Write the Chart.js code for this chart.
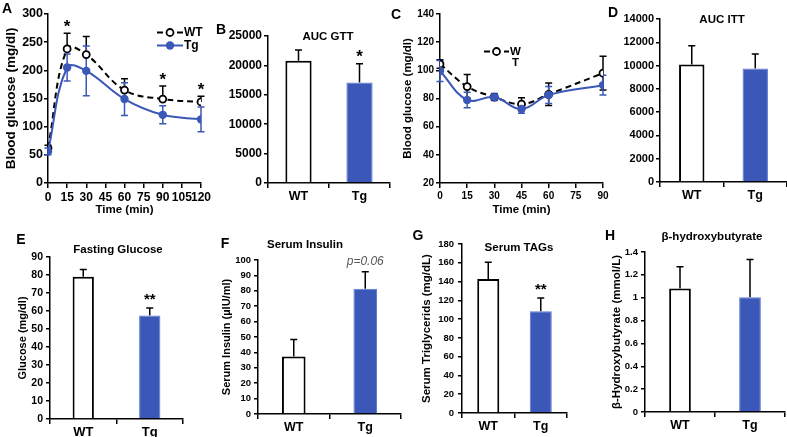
<!DOCTYPE html>
<html>
<head>
<meta charset="utf-8">
<script src="https://cdn.jsdelivr.net/npm/chart.js@4"></script>
<style>
    body { margin: 0; background: #fff; width: 787px; height: 437px; position: relative; overflow: hidden; font-family: Arial, "Liberation Sans", sans-serif; }
    canvas { position: absolute; }
    .txt { position: absolute; font-weight: bold; color: #000; white-space: nowrap; line-height: 1; transform: translate(-50%, -50%); }
    .letter { font-size: 14px; }
    .title { font-size: 11.5px; }
</style>
</head>
<body>
<canvas id="chartA" width="215" height="220" style="left:0;top:0"></canvas>
<canvas id="chartB" width="180" height="220" style="left:215px;top:0"></canvas>
<canvas id="chartC" width="215" height="220" style="left:395px;top:0"></canvas>
<canvas id="chartD" width="177" height="220" style="left:610px;top:0"></canvas>
<canvas id="chartE" width="200" height="212" style="left:0;top:225px"></canvas>
<canvas id="chartF" width="205" height="212" style="left:200px;top:225px"></canvas>
<canvas id="chartG" width="180" height="212" style="left:405px;top:225px"></canvas>
<canvas id="chartH" width="202" height="212" style="left:585px;top:225px"></canvas>

<div class="txt letter" style="left:7px;top:8px">A</div>
<div class="txt letter" style="left:221px;top:29px">B</div>
<div class="txt letter" style="left:396px;top:14px">C</div>
<div class="txt letter" style="left:613px;top:12px">D</div>
<div class="txt letter" style="left:21px;top:239px">E</div>
<div class="txt letter" style="left:225px;top:243px">F</div>
<div class="txt letter" style="left:418px;top:235px">G</div>
<div class="txt letter" style="left:610px;top:235px">H</div>

<div class="txt title" style="left:328px;top:37px">AUC GTT</div>
<div class="txt title" style="left:722px;top:20px">AUC ITT</div>
<div class="txt title" style="left:118px;top:250px">Fasting Glucose</div>
<div class="txt title" style="left:305px;top:245px">Serum Insulin</div>
<div class="txt title" style="left:519px;top:248px">Serum TAGs</div>
<div class="txt title" style="left:712px;top:237px">β-hydroxybutyrate</div>

<script>
var FONT = 'Arial, "Liberation Sans", sans-serif';
var BLUE = '#3b57b8';

// A - glucose tolerance test
var gttTime = [0, 15, 30, 60, 90, 120];
var gttWT = [62, 238, 228, 165, 149, 144];
var gttWTErr = [5, 28, 32, 20, 23, 10];
var gttTg = [56, 205, 199, 149, 121, 113];
var gttTgErr = [6, 24, 44, 29, 16, 22];
var gttStars = ['', '*', '', '', '*', '*'];

// C - insulin tolerance test
var ittTime = [0, 15, 30, 45, 60, 90];
var ittWT = [104.5, 88.5, 81, 76, 83, 98];
var ittWTErr = [3, 8.5, 2, 4.5, 8, 12];
var ittTg = [99.5, 79, 81, 72.5, 82.5, 89.5];
var ittTgErr = [7.5, 5.5, 2.5, 3, 6, 7];

// bar panels (WT, Tg)
var groups = ['WT', 'Tg'];
var aucGtt = [20800, 17100];
var aucGttErr = [1800, 3200];
var aucItt = [10100, 9750];
var aucIttErr = [1600, 1250];
var fastingGlucose = [79, 57.5];
var fastingGlucoseErr = [4.1, 4.2];
var serumInsulin = [37.3, 81.3];
var serumInsulinErr = [11, 11];
var serumTags = [142.7, 108.3];
var serumTagsErr = [17.8, 14.2];
var hydroxybutyrate = [1.08, 1.005];
var hydroxybutyrateErr = [0.19, 0.33];

function valueAt(ds, j) {
    var d = ds.data[j];
    return typeof d === 'object' ? d.y : d;
}

var errorBarPlugin = {
    id: 'errorBars',
    beforeDatasetsDraw: function (chart) {
        var ctx = chart.ctx, y = chart.scales.y;
        chart.data.datasets.forEach(function (ds, i) {
            if (!ds.errUp) return;
            var pts = chart.getDatasetMeta(i).data;
            ctx.save();
            ctx.strokeStyle = ds.errColor;
            ctx.lineWidth = 1.5;
            pts.forEach(function (pt, j) {
                var v = valueAt(ds, j);
                var top = y.getPixelForValue(v + ds.errUp[j]);
                var bottom = y.getPixelForValue(ds.errDown ? v - ds.errDown[j] : v);
                var h = ds.capW / 2;
                ctx.beginPath();
                ctx.moveTo(pt.x, bottom);
                ctx.lineTo(pt.x, top);
                ctx.moveTo(pt.x - h, top);
                ctx.lineTo(pt.x + h, top);
                if (ds.errDown) {
                    ctx.moveTo(pt.x - h, bottom);
                    ctx.lineTo(pt.x + h, bottom);
                }
                ctx.stroke();
            });
            ctx.restore();
        });
    },
    afterDatasetsDraw: function (chart) {
        // significance marks above the error bars
        var ctx = chart.ctx, y = chart.scales.y;
        chart.data.datasets.forEach(function (ds, i) {
            if (!ds.marks) return;
            var pts = chart.getDatasetMeta(i).data;
            ctx.save();
            ctx.font = ds.markFont;
            ctx.fillStyle = ds.markColor || '#000';
            ctx.textAlign = 'center';
            ctx.textBaseline = 'middle';
            pts.forEach(function (pt, j) {
                if (!ds.marks[j]) return;
                var top = y.getPixelForValue(valueAt(ds, j) + ds.errUp[j]);
                ctx.fillText(ds.marks[j], pt.x, top - ds.markGap);
            });
            ctx.restore();
        });
    }
};

var miniLegendPlugin = {
    id: 'miniLegend',
    afterDraw: function (chart, args, opts) {
        var ctx = chart.ctx;
        chart.data.datasets.slice(0, opts.count).forEach(function (ds, i) {
            var y = opts.y + i * opts.rowGap;
            var mid = opts.x + opts.lineLen / 2;
            ctx.save();
            ctx.strokeStyle = ds.borderColor;
            ctx.lineWidth = ds.borderWidth;
            ctx.setLineDash(ds.borderDash || []);
            ctx.beginPath();
            ctx.moveTo(opts.x, y);
            ctx.lineTo(opts.x + opts.lineLen, y);
            ctx.stroke();
            ctx.setLineDash([]);
            ctx.beginPath();
            ctx.arc(mid, y, ds.pointRadius, 0, Math.PI * 2);
            ctx.fillStyle = ds.pointBackgroundColor;
            ctx.fill();
            if (ds.pointBorderWidth) {
                ctx.lineWidth = ds.pointBorderWidth;
                ctx.strokeStyle = ds.pointBorderColor;
                ctx.stroke();
            }
            ctx.fillStyle = '#000';
            ctx.font = 'bold ' + opts.fontSize + 'px ' + FONT;
            ctx.textBaseline = 'middle';
            var label = ds.label;
            if (opts.split) {
                // the legend box in the source is too narrow and wraps the label
                ctx.fillText(label.slice(0, opts.split), opts.x + opts.lineLen + 1, y);
                ctx.textAlign = 'center';
                var w = ctx.measureText(label.slice(0, opts.split)).width;
                ctx.fillText(label.slice(opts.split), opts.x + opts.lineLen + 1 + w / 2, y + opts.rowGap);
            } else {
                ctx.fillText(label, opts.x + opts.lineLen + 1, y);
            }
            ctx.restore();
        });
    }
};

function plainNum(v) {
    return String(Math.round(v * 10) / 10);
}

function boldFont(size) {
    return { family: FONT, size: size, weight: 'bold' };
}

function yScale(o) {
    return {
        min: o.yMin, max: o.yMax,
        ticks: { stepSize: o.yStep, font: boldFont(o.yFont), color: '#000', padding: o.yPad, callback: plainNum },
        grid: { drawOnChartArea: false, tickLength: 4, color: '#000', lineWidth: 1.5 },
        border: { color: '#000', width: 1.5 },
        title: {
            display: !!o.yTitle, text: o.yTitle, color: '#000',
            font: boldFont(o.yTitleSize || 11.5), padding: { top: o.yTitlePad || 0, bottom: 0 }
        },
        afterFit: function (s) { s.width = o.yW; s.paddingTop = 0; s.paddingBottom = 0; }
    };
}

function baseOptions(o, xScale) {
    return {
        responsive: false,
        animation: false,
        devicePixelRatio: 1,
        layout: { padding: { left: 0, top: o.padT, right: o.padR, bottom: 0 } },
        plugins: { legend: { display: false }, tooltip: { enabled: false }, miniLegend: o.legend || {} },
        scales: { x: xScale, y: yScale(o) }
    };
}

function toPoints(xs, ys) {
    return xs.map(function (x, i) { return { x: x, y: ys[i] }; });
}

function lineChart(id, o) {
    var xScale = {
        type: 'linear', min: 0, max: o.xMax,
        ticks: { stepSize: 15, autoSkip: false, maxRotation: 0, font: boldFont(o.xFont), color: '#000', padding: 2 },
        grid: { drawOnChartArea: false, tickLength: 5, color: '#000', lineWidth: 1.5 },
        border: { color: '#000', width: 1.5 },
        title: { display: true, text: 'Time (min)', color: '#000', font: boldFont(11.5), padding: { top: 0, bottom: 3 } },
        afterFit: function (s) { s.height = o.xH; s.paddingLeft = 0; s.paddingRight = 0; }
    };
    return new Chart(document.getElementById(id), {
        type: 'line',
        data: {
            datasets: [{
                label: 'WT', order: 1,
                data: toPoints(o.time, o.wt),
                borderColor: '#000', borderWidth: 2, borderDash: [6, 4],
                pointRadius: 3.5, pointBorderWidth: 1.8, pointBackgroundColor: '#fff', pointBorderColor: '#000',
                tension: 0.4,
                errUp: o.wtErr, errDown: o.wtDown, errColor: '#000', capW: 7,
                marks: o.marks, markFont: 'bold 17px ' + FONT, markGap: 6
            }, {
                label: 'Tg', order: 0,
                data: toPoints(o.time, o.tg),
                borderColor: BLUE, borderWidth: 2,
                pointRadius: 4.2, pointBorderWidth: 0, pointBackgroundColor: BLUE, pointBorderColor: BLUE,
                tension: 0.4,
                errUp: o.tgErr, errDown: o.tgErr, errColor: BLUE, capW: 7
            }]
        },
        options: baseOptions(o, xScale),
        plugins: [errorBarPlugin, miniLegendPlugin]
    });
}

function barChart(id, o) {
    var xScale = {
        offset: true,
        ticks: { font: boldFont(o.xFont || 12.5), color: '#000', padding: o.xPad || 1 },
        grid: { offset: true, drawOnChartArea: false, tickLength: 5, color: '#000', lineWidth: 1.5 },
        border: { color: '#000', width: 1.5 },
        afterFit: function (s) { s.height = o.xH; s.paddingLeft = 0; s.paddingRight = 0; }
    };
    return new Chart(document.getElementById(id), {
        type: 'bar',
        data: {
            labels: groups,
            datasets: [{
                data: o.values,
                backgroundColor: ['#fff', BLUE],
                borderColor: ['#000', '#5b79d2'],
                borderWidth: [2, 1],
                barPercentage: o.barPct, categoryPercentage: 1,
                errUp: o.err, errColor: '#000', capW: 7,
                marks: o.marks,
                markFont: o.markFont || 'bold 17px ' + FONT,
                markColor: o.markColor, markGap: o.markGap || 6
            }]
        },
        options: baseOptions(o, xScale),
        plugins: [errorBarPlugin]
    });
}

lineChart('chartA', {
    time: gttTime, wt: gttWT, wtErr: gttWTErr, tg: gttTg, tgErr: gttTgErr, marks: gttStars,
    xMax: 120, xFont: 12, xH: 37,
    yMin: 0, yMax: 300, yStep: 50, yFont: 12.5, yPad: 1, yW: 48,
    yTitle: 'Blood glucose (mg/dl)', yTitleSize: 13.5, yTitlePad: 3,
    padT: 14, padR: 14,
    legend: { count: 2, x: 157, y: 32.5, rowGap: 13, lineLen: 26, fontSize: 12 }
});

lineChart('chartC', {
    time: ittTime, wt: ittWT, wtErr: ittWTErr, wtDown: ittWTErr, tg: ittTg, tgErr: ittTgErr,
    xMax: 90, xFont: 10, xH: 37,
    yMin: 20, yMax: 140, yStep: 20, yFont: 10, yPad: 2, yW: 45,
    yTitle: 'Blood glucose (mg/dl)', yTitleSize: 11.5, yTitlePad: 6,
    padT: 14, padR: 7,
    legend: { count: 1, x: 89, y: 51.5, rowGap: 11.5, lineLen: 25, fontSize: 11.5, split: 1 }
});

barChart('chartB', {
    values: aucGtt, err: aucGttErr, marks: ['', '*'], barPct: 0.43,
    yMin: 0, yMax: 25000, yStep: 5000, yFont: 12, yPad: 2, yW: 53,
    padT: 36, padR: 5, xH: 37, xPad: 1
});

barChart('chartD', {
    values: aucItt, err: aucIttErr, barPct: 0.4,
    yMin: 0, yMax: 14000, yStep: 2000, yFont: 11, yPad: 2, yW: 50,
    padT: 19, padR: 0, xH: 38, xPad: 0
});

barChart('chartE', {
    values: fastingGlucose, err: fastingGlucoseErr, marks: ['', '**'], barPct: 0.32,
    markFont: 'bold 15px ' + FONT, markGap: 8,
    yMin: 0, yMax: 90, yStep: 10, yFont: 10.5, yPad: 3, yW: 50,
    yTitle: 'Glucose (mg/dl)', yTitleSize: 11, yTitlePad: 16,
    padT: 32, padR: 17, xH: 18, xFont: 13, xPad: 0
});

barChart('chartF', {
    values: serumInsulin, err: serumInsulinErr, marks: ['', 'p=0.06'], barPct: 0.33,
    markFont: 'italic 12px ' + FONT, markColor: '#595959', markGap: 10,
    yMin: 0, yMax: 100, yStep: 10, yFont: 9.5, yPad: 3, yW: 58,
    yTitle: 'Serum Insulin (µIU/ml)', yTitleSize: 11, yTitlePad: 20,
    padT: 35, padR: 4, xH: 23, xPad: 1
});

barChart('chartG', {
    values: serumTags, err: serumTagsErr, marks: ['', '**'], barPct: 0.42,
    markFont: 'bold 15px ' + FONT, markGap: 8,
    yMin: 0, yMax: 180, yStep: 20, yFont: 9.5, yPad: 4, yW: 57,
    yTitle: 'Serum Triglycerids (mg/dL)', yTitleSize: 11.5, yTitlePad: 15,
    padT: 19, padR: 18, xH: 24, xPad: 1
});

barChart('chartH', {
    values: hydroxybutyrate, err: hydroxybutyrateErr, barPct: 0.31,
    yMin: 0, yMax: 1.4, yStep: 0.2, yFont: 9.5, yPad: 3, yW: 60,
    yTitle: 'β-Hydroxybutyrate (mmol/L)', yTitleSize: 11.5, yTitlePad: 25,
    padT: 27, padR: 2, xH: 25, xPad: 1
});
</script>
</body>
</html>
